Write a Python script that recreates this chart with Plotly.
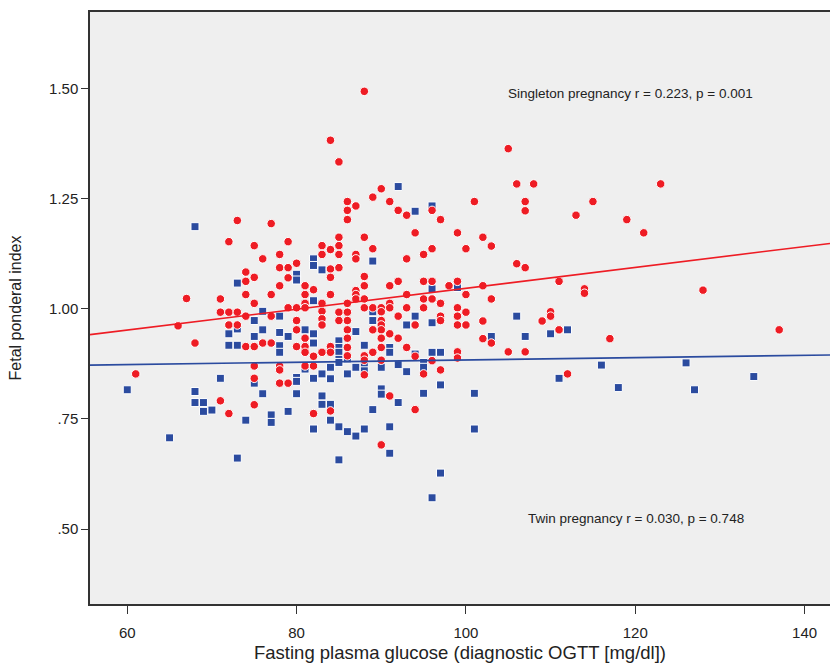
import plotly.graph_objects as go

# Singleton pregnancy (red circles): fasting glucose, fetal ponderal index
singleton_glucose = [
    61, 66, 67,
    73, 77, 72, 75, 79, 83, 84,
    76, 78, 83, 80, 78, 79, 84, 84, 74, 74, 75, 79, 78, 81, 82, 74, 77, 81, 84,
    71, 75, 81, 83, 79, 80, 81, 83, 71, 72, 73, 74, 77, 83, 80, 72, 83, 73, 80,
    81, 68, 76, 77, 74, 75, 80, 81, 84, 81, 83, 84,
    82, 75, 78, 78, 81, 82, 75, 78, 79, 71, 75, 84, 72, 82,
    88, 84, 85, 90, 89, 91, 86, 87, 86, 92, 93, 96, 97, 86, 101, 94, 99, 85, 85,
    88, 89, 96, 100, 102,
    87, 87, 85, 95, 93, 85, 88, 88, 92, 91, 95, 96, 99, 98, 100, 87, 87, 87, 88,
    93, 95, 96, 97, 86, 91, 91, 88, 89, 90, 93, 95, 99, 90, 85, 86, 100, 92, 99,
    97, 97, 86, 85, 90, 94, 99, 100, 90, 90, 89, 86, 91, 92, 90, 86, 86, 89, 90,
    93, 99,
    86, 88, 88, 90, 94, 96, 99, 88, 95, 97, 91, 94, 90,
    105, 106, 108, 107, 107, 115, 113, 119, 121, 103, 106, 107, 102, 111, 114,
    114, 103, 110, 110, 109, 102, 102, 103, 111, 117, 105, 107, 112,
    123, 128, 137,
]
singleton_fpi = [
    0.852, 0.961, 1.023,
    1.200, 1.193, 1.152, 1.143, 1.152, 1.143, 1.134,
    1.113, 1.123, 1.123, 1.103, 1.093, 1.093, 1.090, 1.071, 1.083, 1.062, 1.071,
    1.070, 1.052, 1.052, 1.043, 1.032, 1.032, 1.032, 1.032,
    1.022, 1.012, 1.012, 1.012, 1.002, 1.002, 1.002, 0.994, 0.992, 0.992, 0.992,
    0.983, 0.983, 0.977, 0.973, 0.963, 0.963, 0.963, 0.952,
    0.933, 0.922, 0.922, 0.922, 0.914, 0.914, 0.914, 0.914, 0.914, 0.901, 0.901,
    0.901,
    0.892, 0.870, 0.870, 0.861, 0.870, 0.870, 0.842, 0.831, 0.831, 0.791, 0.782,
    0.768, 0.762, 0.762,
    1.493, 1.382, 1.333, 1.272, 1.253, 1.243, 1.243, 1.233, 1.223, 1.223, 1.212,
    1.223, 1.202, 1.202, 1.243, 1.172, 1.172, 1.162, 1.143, 1.162, 1.136, 1.136,
    1.136, 1.162,
    1.123, 1.113, 1.123, 1.123, 1.113, 1.093, 1.073, 1.052, 1.062, 1.052, 1.062,
    1.062, 1.062, 1.052, 1.032, 1.041, 1.032, 1.022, 1.022,
    1.032, 1.022, 1.022, 1.012, 1.012, 1.012, 1.002, 1.002, 1.002, 1.002, 1.002,
    1.002, 1.002, 0.993, 0.992, 0.992, 0.992, 0.983, 0.983,
    0.983, 0.973, 0.973, 0.973, 0.973, 0.963, 0.963, 0.963, 0.963, 0.952, 0.952,
    0.952, 0.943, 0.933, 0.933, 0.933, 0.912, 0.901, 0.912,
    0.912, 0.902,
    0.893, 0.893, 0.883, 0.883, 0.892, 0.882, 0.888, 0.850, 0.852, 0.861, 0.802,
    0.771, 0.691,
    1.363, 1.283, 1.283, 1.243, 1.222, 1.243, 1.212, 1.202, 1.172, 1.142, 1.102,
    1.093, 1.052, 1.062, 1.045,
    1.035, 1.022, 0.993, 0.983, 0.972, 0.972, 0.932, 0.922, 0.952, 0.932, 0.902,
    0.902, 0.852,
    1.283, 1.042, 0.952,
]

# Twin pregnancy (blue squares)
twin_glucose = [
    60, 65, 68,
    82, 82, 83, 73, 80, 80, 82, 76, 78, 75, 73, 76, 81, 78, 72, 75, 79, 82, 82,
    78, 72, 73, 78,
    81, 84, 84, 71, 75, 80, 80, 82, 83, 68, 76, 80, 83, 68, 69, 83, 84, 69, 70,
    79, 77, 77, 74, 84, 82, 73,
    92, 94, 96,
    89, 96, 99, 89, 94, 89, 96, 93, 87, 85, 85, 85, 88, 91, 91, 94, 96, 97,
    85, 85, 86, 95, 95, 87, 88, 88, 90, 92, 93, 86, 97, 90, 90, 95, 101, 92, 89,
    85, 86, 87, 88, 91, 101, 91, 85, 97, 96,
    106, 103, 107, 110, 112, 116, 111, 118,
    126, 134, 127,
]
twin_fpi = [
    0.816, 0.707, 1.186,
    1.113, 1.098, 1.088, 1.058, 1.078, 1.065, 1.018, 0.994, 0.983, 0.973, 0.954,
    0.952, 0.952, 0.946, 0.943, 0.937, 0.937, 0.943, 0.922, 0.916, 0.917, 0.917,
    0.901,
    0.863, 0.867, 0.841, 0.842, 0.831, 0.844, 0.835, 0.842, 0.852, 0.812, 0.807,
    0.807, 0.802, 0.787, 0.787, 0.783, 0.783, 0.767, 0.770, 0.767, 0.759, 0.742,
    0.747, 0.747, 0.727, 0.661,
    1.277, 1.221, 1.233,
    1.108, 1.045, 1.048, 0.993, 0.983, 0.973, 0.968, 0.963, 0.948, 0.927, 0.912,
    0.901, 0.917, 0.912, 0.901, 0.897, 0.901, 0.901,
    0.885, 0.878, 0.886, 0.878, 0.867, 0.867, 0.870, 0.859, 0.867, 0.873, 0.857,
    0.852, 0.827, 0.818, 0.806, 0.808, 0.808, 0.787, 0.771,
    0.732, 0.721, 0.711, 0.727, 0.732, 0.727, 0.672, 0.657, 0.627, 0.571,
    0.983, 0.937, 0.937, 0.943, 0.952, 0.872, 0.842, 0.821,
    0.877, 0.846, 0.816,
]

# Regression lines (read at both ends of the visible x range)
fit_x = [55.6, 143.0]
singleton_fit = [0.941, 1.148]
twin_fit = [0.872, 0.895]

x_ticks = [60, 80, 100, 120, 140]
y_ticks = [0.50, 0.75, 1.00, 1.25, 1.50]
y_tick_labels = [".50", ".75", "1.00", "1.25", "1.50"]

RED = "#ee1c24"
BLUE = "#2b4b9f"

fig = go.Figure()
fig.add_trace(go.Scatter(
    x=twin_glucose, y=twin_fpi, mode="markers",
    marker=dict(symbol="square", size=8, color=BLUE, line=dict(color="white", width=1)),
    showlegend=False, hoverinfo="skip"))
fig.add_trace(go.Scatter(
    x=singleton_glucose, y=singleton_fpi, mode="markers",
    marker=dict(symbol="circle", size=8.5, color=RED, line=dict(color="white", width=1)),
    showlegend=False, hoverinfo="skip"))
fig.add_trace(go.Scatter(x=fit_x, y=singleton_fit, mode="lines",
                         line=dict(color=RED, width=1.6), showlegend=False))
fig.add_trace(go.Scatter(x=fit_x, y=twin_fit, mode="lines",
                         line=dict(color=BLUE, width=1.6), showlegend=False))

fig.add_annotation(x=119.4, y=1.489, text="Singleton pregnancy r = 0.223, p = 0.001",
                   showarrow=False, xanchor="center", yanchor="middle",
                   font=dict(size=13.5, color="#222"))
fig.add_annotation(x=120.1, y=0.525, text="Twin pregnancy r = 0.030, p = 0.748",
                   showarrow=False, xanchor="center", yanchor="middle",
                   font=dict(size=13.5, color="#222"))

fig.update_layout(
    width=830, height=664,
    margin=dict(l=90, r=0, t=12, b=60, autoexpand=False),
    paper_bgcolor="white", plot_bgcolor="#efefef",
    font=dict(family="Liberation Sans, Arial, sans-serif", color="#222"),
    xaxis=dict(range=[55.6, 143.0], tickvals=x_ticks, showgrid=False, zeroline=False,
               showline=True, linecolor="#333", linewidth=1.5, mirror=True,
               ticks="outside", ticklen=8, tickcolor="#333", tickfont=dict(size=15),
               ticklabelstandoff=6,
               title=dict(text="Fasting plasma glucose (diagnostic OGTT [mg/dl])",
                          font=dict(size=18.5), standoff=6)),
    yaxis=dict(range=[0.33, 1.673], tickvals=y_ticks, ticktext=y_tick_labels,
               showgrid=False, zeroline=False, showline=True, linecolor="#333",
               linewidth=1.5, ticks="outside", ticklen=7, tickcolor="#333",
               tickfont=dict(size=15),
               title=dict(text="Fetal ponderal index", font=dict(size=16), standoff=23)),
)

# Remove the default page margin so the 830x664 figure fills the window exactly
fig.write_html(
    "out.html",
    config={"displayModeBar": False},
    post_script="document.body.style.margin='0';document.body.style.overflow='hidden';",
)
